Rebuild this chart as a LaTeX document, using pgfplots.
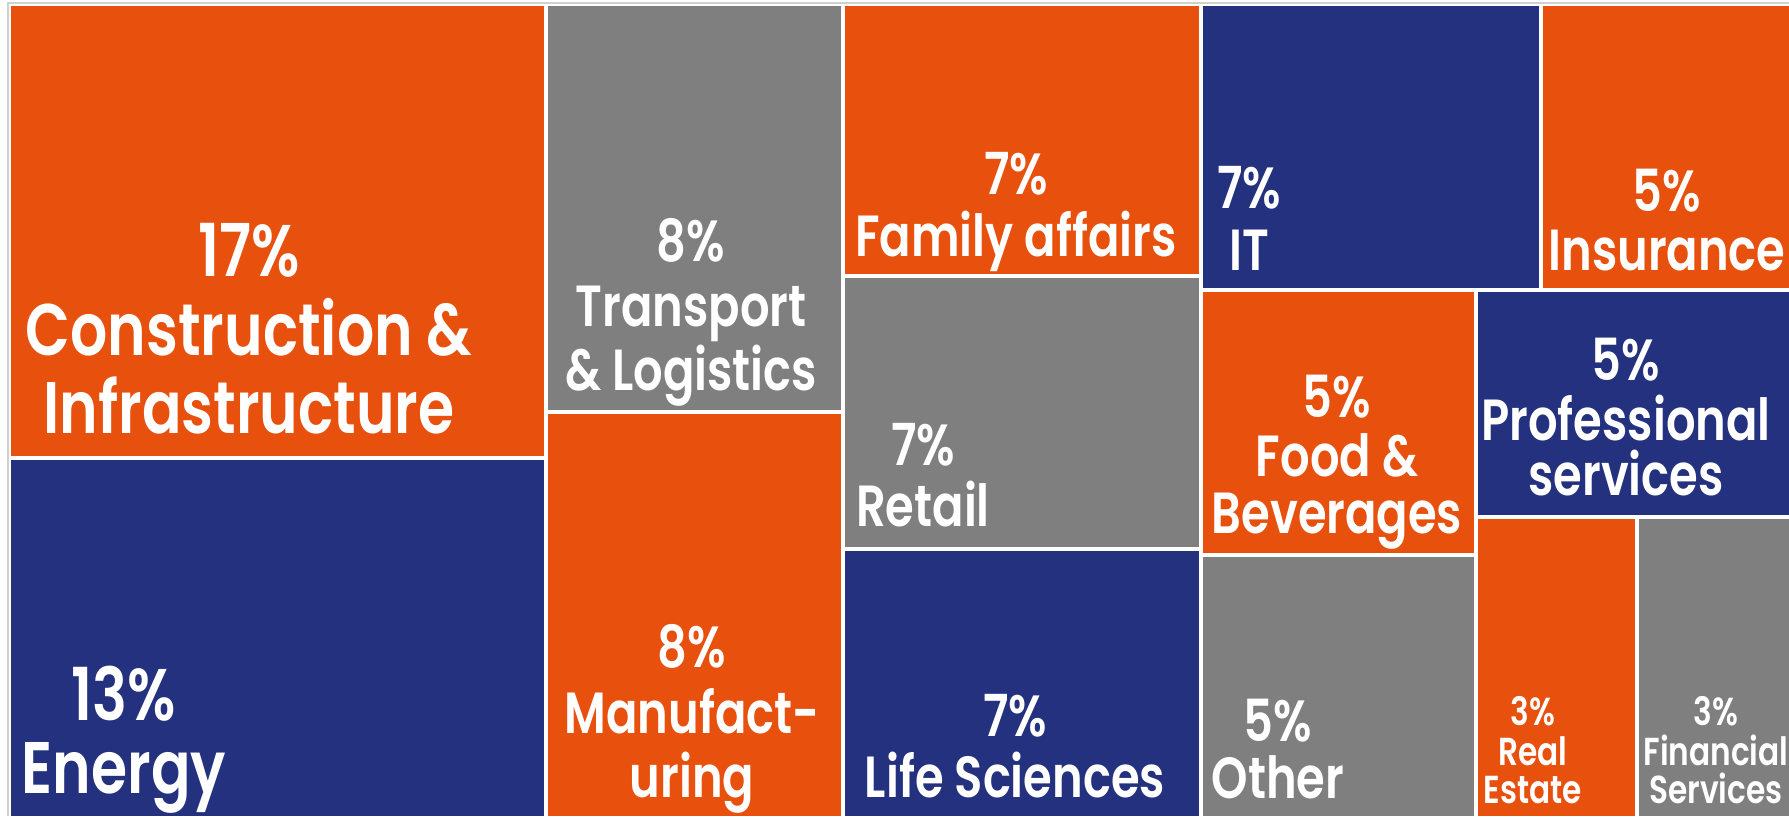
\documentclass[border=0pt]{standalone}
\usepackage{fontspec}
\usepackage{pgfplots}
\pgfplotsset{compat=1.18}
\newfontfamily\pop{Poppins}[UprightFont=* SemiBold,FakeStretch=0.80]
\definecolor{cOr}{HTML}{E8500E}
\definecolor{cNv}{HTML}{23317E}
\definecolor{cGr}{HTML}{7F7F7F}
\definecolor{cFr}{HTML}{D0D0D0}
\newcommand\fL{\pop\fontsize{36.5}{40}\selectfont}
\newcommand\fM{\pop\fontsize{29}{32}\selectfont}
\newcommand\fS{\pop\fontsize{19.5}{22}\selectfont}
\begin{document}
\begin{tikzpicture}[lab/.style={anchor=base,text=white,inner sep=0pt}]
\begin{axis}[width=894.5pt,height=408pt,scale only axis,
  xmin=0,xmax=1789,ymin=0,ymax=816,y dir=reverse,hide axis,clip=true]
% frame
\addplot[draw=cFr,line width=0.6pt] coordinates {(8,816) (8,3) (1789,3)};
% rectangles (x1,y1)-(x2,y2) in pixel units
\addplot[fill=cOr,draw=none] coordinates {(11,6) (544,6) (544,456) (11,456)} --cycle;      % Construction
\addplot[fill=cNv,draw=none] coordinates {(11,460) (544,460) (544,816) (11,816)} --cycle;  % Energy
\addplot[fill=cGr,draw=none] coordinates {(548,6) (841,6) (841,410) (548,410)} --cycle;    % Transport
\addplot[fill=cOr,draw=none] coordinates {(548,414) (841,414) (841,816) (548,816)} --cycle;% Manufacturing
\addplot[fill=cOr,draw=none] coordinates {(845,6) (1199,6) (1199,274) (845,274)} --cycle;  % Family
\addplot[fill=cGr,draw=none] coordinates {(845,278) (1199,278) (1199,547) (845,547)} --cycle;% Retail
\addplot[fill=cNv,draw=none] coordinates {(845,551) (1199,551) (1199,816) (845,816)} --cycle;% Life
\addplot[fill=cNv,draw=none] coordinates {(1203,6) (1539,6) (1539,288) (1203,288)} --cycle;% IT
\addplot[fill=cOr,draw=none] coordinates {(1543,6) (1789,6) (1789,288) (1543,288)} --cycle;% Insurance
\addplot[fill=cOr,draw=none] coordinates {(1203,292) (1474,292) (1474,553) (1203,553)} --cycle;% Food
\addplot[fill=cGr,draw=none] coordinates {(1203,557) (1474,557) (1474,816) (1203,816)} --cycle;% Other
\addplot[fill=cNv,draw=none] coordinates {(1478,292) (1789,292) (1789,515) (1478,515)} --cycle;% Professional
\addplot[fill=cOr,draw=none] coordinates {(1478,519) (1635,519) (1635,816) (1478,816)} --cycle;% Real estate
\addplot[fill=cGr,draw=none] coordinates {(1639,519) (1789,519) (1789,816) (1639,816)} --cycle;% Financial
% labels
\node[lab,font=\fL] at (axis cs:249,276) {17\%};
\node[lab,font=\fL] at (axis cs:249,355) {Construction \&};
\node[lab,font=\fL] at (axis cs:249,433) {Infrastructure};
\node[lab,font=\fL] at (axis cs:124,720) {13\%};
\node[lab,font=\fL] at (axis cs:124,793) {Energy};
\node[lab,font=\fM] at (axis cs:691,261) {8\%};
\node[lab,font=\fM] at (axis cs:691,326) {Transport};
\node[lab,font=\fM] at (axis cs:691,390) {\& Logistics};
\node[lab,font=\fM] at (axis cs:692,667) {8\%};
\node[lab,font=\fM] at (axis cs:692,733) {Manufact-};
\node[lab,font=\fM] at (axis cs:692,797) {uring};
\node[lab,font=\fM] at (axis cs:1016,194) {7\%};
\node[lab,font=\fM] at (axis cs:1016,256) {Family affairs};
\node[lab,font=\fM] at (axis cs:923,465) {7\%};
\node[lab,font=\fM] at (axis cs:923,526) {Retail};
\node[lab,font=\fM] at (axis cs:1015,736) {7\%};
\node[lab,font=\fM] at (axis cs:1015,797) {Life Sciences};
\node[lab,font=\fM] at (axis cs:1249,208) {7\%};
\node[lab,font=\fM] at (axis cs:1249,270) {IT};
\node[lab,font=\fM] at (axis cs:1667,211) {5\%};
\node[lab,font=\fM] at (axis cs:1667,270) {Insurance};
\node[lab,font=\fM] at (axis cs:1337,417) {5\%};
\node[lab,font=\fM] at (axis cs:1337,476) {Food \&};
\node[lab,font=\fM] at (axis cs:1337,533) {Beverages};
\node[lab,font=\fM] at (axis cs:1626,380) {5\%};
\node[lab,font=\fM] at (axis cs:1626,440) {Professional};
\node[lab,font=\fM] at (axis cs:1626,495) {services};
\node[lab,font=\fM] at (axis cs:1278,741) {5\%};
\node[lab,font=\fM] at (axis cs:1278,798) {Other};
\node[lab,font=\fS] at (axis cs:1533,725) {3\%};
\node[lab,font=\fS] at (axis cs:1533,765) {Real};
\node[lab,font=\fS] at (axis cs:1533,803) {Estate};
\node[lab,font=\fS] at (axis cs:1716,725) {3\%};
\node[lab,font=\fS] at (axis cs:1716,765) {Financial};
\node[lab,font=\fS] at (axis cs:1716,803) {Services};
\end{axis}
\pgfresetboundingbox
\path[use as bounding box] (current axis.south west) rectangle (current axis.north east);
\end{tikzpicture}
\end{document}
